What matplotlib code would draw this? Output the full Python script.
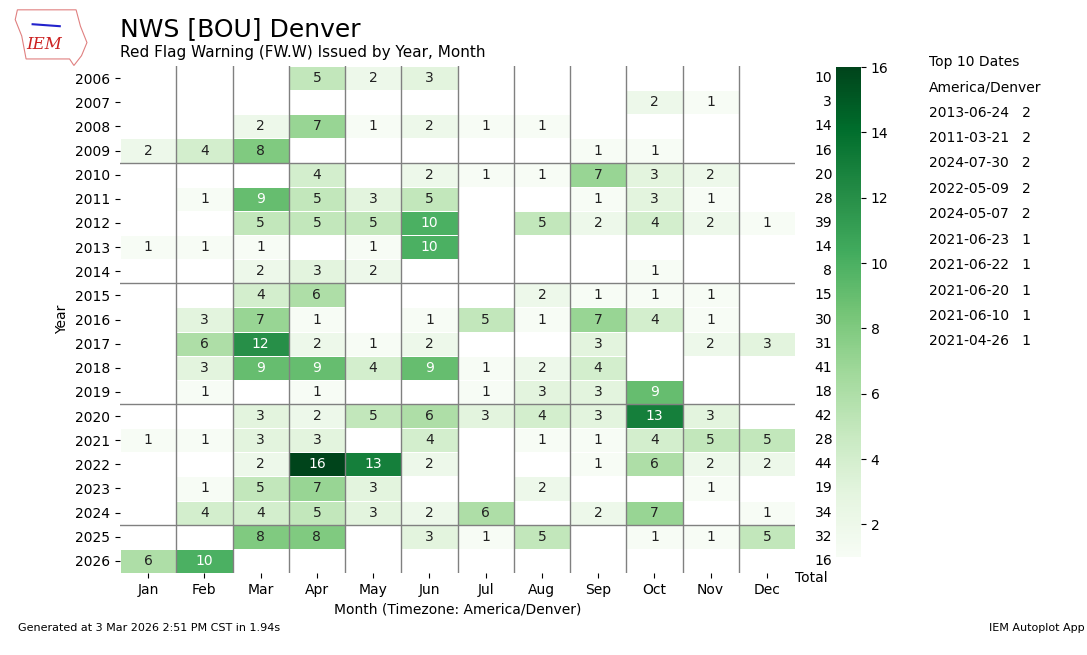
import numpy as np
import matplotlib
matplotlib.use("Agg")
import matplotlib.pyplot as plt
from matplotlib.patches import Polygon

# Red Flag Warnings issued by NWS BOU, year x month
years = list(range(2006, 2027))
months = ["Jan", "Feb", "Mar", "Apr", "May", "Jun",
          "Jul", "Aug", "Sep", "Oct", "Nov", "Dec"]

counts = [
    [0, 0, 0, 5, 2, 3, 0, 0, 0, 0, 0, 0],     # 2006
    [0, 0, 0, 0, 0, 0, 0, 0, 0, 2, 1, 0],     # 2007
    [0, 0, 2, 7, 1, 2, 1, 1, 0, 0, 0, 0],     # 2008
    [2, 4, 8, 0, 0, 0, 0, 0, 1, 1, 0, 0],     # 2009
    [0, 0, 0, 4, 0, 2, 1, 1, 7, 3, 2, 0],     # 2010
    [0, 1, 9, 5, 3, 5, 0, 0, 1, 3, 1, 0],     # 2011
    [0, 0, 5, 5, 5, 10, 0, 5, 2, 4, 2, 1],    # 2012
    [1, 1, 1, 0, 1, 10, 0, 0, 0, 0, 0, 0],    # 2013
    [0, 0, 2, 3, 2, 0, 0, 0, 0, 1, 0, 0],     # 2014
    [0, 0, 4, 6, 0, 0, 0, 2, 1, 1, 1, 0],     # 2015
    [0, 3, 7, 1, 0, 1, 5, 1, 7, 4, 1, 0],     # 2016
    [0, 6, 12, 2, 1, 2, 0, 0, 3, 0, 2, 3],    # 2017
    [0, 3, 9, 9, 4, 9, 1, 2, 4, 0, 0, 0],     # 2018
    [0, 1, 0, 1, 0, 0, 1, 3, 3, 9, 0, 0],     # 2019
    [0, 0, 3, 2, 5, 6, 3, 4, 3, 13, 3, 0],    # 2020
    [1, 1, 3, 3, 0, 4, 0, 1, 1, 4, 5, 5],     # 2021
    [0, 0, 2, 16, 13, 2, 0, 0, 1, 6, 2, 2],   # 2022
    [0, 1, 5, 7, 3, 0, 0, 2, 0, 0, 1, 0],     # 2023
    [0, 4, 4, 5, 3, 2, 6, 0, 2, 7, 0, 1],     # 2024
    [0, 0, 8, 8, 0, 3, 1, 5, 0, 1, 1, 5],     # 2025
    [6, 10, 0, 0, 0, 0, 0, 0, 0, 0, 0, 0],    # 2026
]

top_dates = ["2013-06-24", "2011-03-21", "2024-07-30", "2022-05-09", "2024-05-07",
             "2021-06-23", "2021-06-22", "2021-06-20", "2021-06-10", "2021-04-26"]
top_counts = [2, 2, 2, 2, 2, 1, 1, 1, 1, 1]

data = np.array(counts, dtype=float)
totals = data.sum(axis=1).astype(int)
masked = np.ma.masked_where(data == 0, data)

fig = plt.figure(figsize=(10.87, 6.55), dpi=100)
ax = fig.add_axes([0.1104, 0.1252, 0.621, 0.774])

xedges = np.arange(13)
yedges = np.arange(len(years) + 1)
mesh = ax.pcolormesh(xedges, yedges, masked, cmap="Greens", vmin=1, vmax=16,
                     edgecolor="white", linewidth=0.6)
ax.set_xlim(0, 12)
ax.set_ylim(len(years), 0)

for i in range(len(years)):
    for j in range(12):
        v = int(data[i, j])
        if v == 0:
            continue
        ax.text(j + 0.5, i + 0.5, str(v), ha="center", va="center", fontsize=10,
                color="white" if v > 8 else "#222222")
    ax.text(12.66, i + 0.5, str(totals[i]), ha="right", va="center",
            fontsize=10, clip_on=False)
ax.text(12.0, len(years) + 0.2, "Total", ha="left", va="center",
        fontsize=10, clip_on=False)

# grid lines
for j in range(1, 12):
    ax.axvline(j, color="gray", lw=1)
for i, yr in enumerate(years):
    if yr % 5 == 0 and i > 0:
        ax.axhline(i, color="gray", lw=1)

for s in ax.spines.values():
    s.set_visible(False)
ax.set_xticks(np.arange(12) + 0.5)
ax.set_xticklabels(months)
ax.set_yticks(np.arange(len(years)) + 0.5)
ax.set_yticklabels([str(y) for y in years])
ax.tick_params(labelsize=10)
ax.set_ylabel("Year", fontsize=10)
ax.set_xlabel("Month (Timezone: America/Denver)", fontsize=10)

cax = fig.add_axes([0.769, 0.1496, 0.023, 0.748])
cb = fig.colorbar(mesh, cax=cax)
cb.outline.set_visible(False)
cb.set_ticks([2, 4, 6, 8, 10, 12, 14, 16])
cb.ax.tick_params(labelsize=10)

fig.text(0.1104, 0.955, "NWS [BOU] Denver", fontsize=18, va="center")
fig.text(0.1104, 0.92, "Red Flag Warning (FW.W) Issued by Year, Month",
         fontsize=11, va="center")

fig.text(0.855, 0.905, "Top 10 Dates", fontsize=10, va="center")
fig.text(0.855, 0.866, "America/Denver", fontsize=10, va="center")
for k, (d, c) in enumerate(zip(top_dates, top_counts)):
    fig.text(0.855, 0.828 - k * 0.0388, f"{d}   {c}", fontsize=10, va="center")

# logo stand-in: rough state outline with IEM text
outline = [(0.016, 0.985), (0.070, 0.985), (0.074, 0.960), (0.080, 0.935),
           (0.075, 0.915), (0.068, 0.900), (0.064, 0.910), (0.024, 0.910),
           (0.020, 0.945), (0.014, 0.970)]
fig.patches.append(Polygon(outline, closed=True, fill=False, edgecolor="#e08080",
                           lw=0.8, transform=fig.transFigure))
fig.lines.append(plt.Line2D([0.030, 0.055], [0.963, 0.960], color="#2222cc",
                            lw=1.5, transform=fig.transFigure))
fig.text(0.041, 0.932, "IEM", fontsize=12, color="#cc2222", style="italic",
         family="DejaVu Serif", ha="center", va="center")

fig.text(0.017, 0.041, "Generated at 3 Mar 2026 2:51 PM CST in 1.94s",
         fontsize=8, va="center")
fig.text(0.998, 0.041, "IEM Autoplot App", fontsize=8, va="center", ha="right")

fig.savefig("out.png", dpi=100)
